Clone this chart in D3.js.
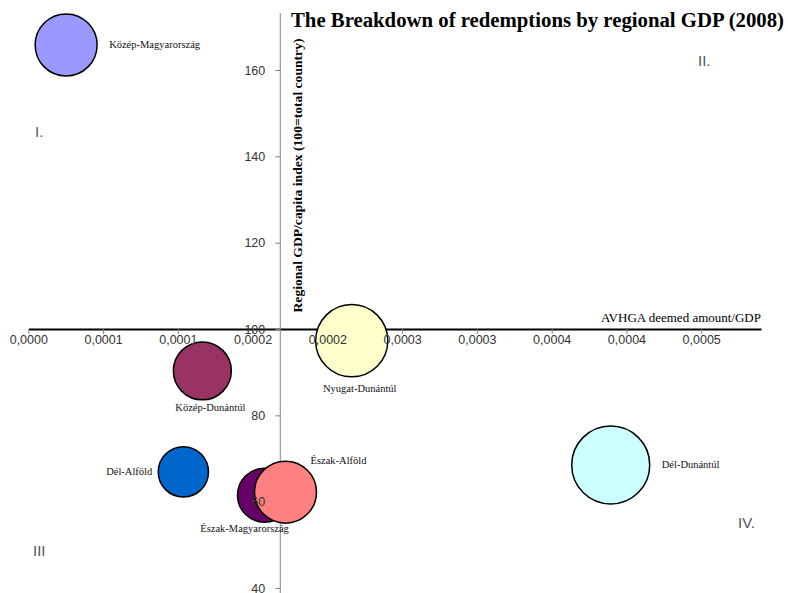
<!DOCTYPE html>
<html>
<head>
<meta charset="utf-8">
<script src="https://cdn.jsdelivr.net/npm/d3@7"></script>
<style>
  html, body { margin: 0; padding: 0; background: #fff; }
  svg { display: block; }
</style>
</head>
<body>
<svg id="chart" width="788" height="593"></svg>
<script>
// ---- data ----
const regions = ["Közép-Magyarország", "Közép-Dunántúl", "Nyugat-Dunántúl", "Dél-Alföld", "Észak-Magyarország", "Észak-Alföld", "Dél-Dunántúl"];
const redemptionRatio = [0.0000253, 0.0001164, 0.0002163, 0.0001037, 0.000158, 0.000172, 0.0003895];
const gdpIndex = [165.8, 90.3, 97.3, 66.9, 61.5, 62.2, 68.5];
const bubbleSize = [9.6, 8.4, 13.0, 6.3, 7.3, 9.6, 15.2];
const colors = ["#9999FF", "#993366", "#FFFFCC", "#0066CC", "#660066", "#FF8080", "#CCFFFF"];
const xTickValues = [0, 0.00005, 0.0001, 0.00015, 0.0002, 0.00025, 0.0003, 0.00035, 0.0004, 0.00045];
const xTickLabels = ["0,0000", "0,0001", "0,0001", "0,0002", "0,0002", "0,0003", "0,0003", "0,0004", "0,0004", "0,0005"];
const yTickValues = [40, 60, 80, 100, 120, 140, 160];
const quadrants = ["I.", "II.", "III", "IV."];
const title = "The Breakdown of redemptions by regional GDP (2008)";
const xTitle = "AVHGA deemed amount/GDP";
const yTitle = "Regional GDP/capita index (100=total country)";
const xCrossValue = 100;        // horizontal axis crosses at GDP index 100
const yCrossValue = 0.0001685;  // vertical axis crosses here

// ---- layout ----
const svg = d3.select("#chart");
const x = d3.scaleLinear().domain([0, 0.00049]).range([28.3, 761]);
const y = d3.scaleLinear().domain([40, 160]).range([588, 70]);
const r = d3.scaleSqrt().domain([0, d3.max(bubbleSize)]).range([0, 39]);
const serif = "'Liberation Serif', 'Times New Roman', serif";
const sans = "'Liberation Sans', Arial, sans-serif";

const xAxisY = y(xCrossValue);
const yAxisX = x(yCrossValue);

// axis lines & ticks (under bubbles)
const xAxisLines = svg.append("g").attr("transform", `translate(0,${xAxisY})`)
  .call(d3.axisBottom(x).tickValues(xTickValues).tickFormat("").tickSizeInner(5).tickSizeOuter(0));
xAxisLines.select(".domain").attr("stroke", "#000").attr("stroke-width", 2.2);
xAxisLines.selectAll(".tick line").attr("stroke", "#808080");

const yAxisLines = svg.append("g").attr("transform", `translate(${yAxisX},0)`)
  .call(d3.axisLeft(y).tickValues(yTickValues).tickFormat("").tickSizeInner(5).tickSizeOuter(0));
yAxisLines.select(".domain").remove();
yAxisLines.selectAll(".tick line").attr("stroke", "#808080");
svg.append("line")
  .attr("x1", yAxisX).attr("x2", yAxisX)
  .attr("y1", y(y.invert(13))).attr("y2", y(y.invert(593)))
  .attr("stroke", "#808080").attr("stroke-width", 1);

// bubbles
const data = regions.map((name, i) => ({
  name, xv: redemptionRatio[i], yv: gdpIndex[i], s: bubbleSize[i], color: colors[i]
}));
svg.append("g").selectAll("circle").data(data).join("circle")
  .attr("cx", d => x(d.xv)).attr("cy", d => y(d.yv)).attr("r", d => r(d.s))
  .attr("fill", d => d.color).attr("stroke", "#000").attr("stroke-width", 1.5);

// bubble labels (placement per region)
const placement = {
  "Közép-Magyarország": { side: "right", dx: 12, dy: 3 },
  "Közép-Dunántúl": { side: "below", dx: 8, dy: 11 },
  "Nyugat-Dunántúl": { side: "below", dx: 8, dy: 15 },
  "Dél-Alföld": { side: "left", dx: -6, dy: 3 },
  "Észak-Magyarország": { side: "below", dx: -20, dy: 10 },
  "Észak-Alföld": { side: "aboveRight", dx: 25, dy: -28 },
  "Dél-Dunántúl": { side: "right", dx: 12, dy: 3 }
};
svg.append("g").selectAll("text").data(data).join("text")
  .attr("font-family", serif).attr("font-size", 10.5).attr("fill", "#111")
  .attr("text-anchor", d => {
    const p = placement[d.name].side;
    return p === "right" || p === "aboveRight" ? "start" : p === "left" ? "end" : "middle";
  })
  .attr("x", d => {
    const p = placement[d.name];
    const cx = x(d.xv), rr = r(d.s);
    if (p.side === "right") return cx + rr + p.dx;
    if (p.side === "left") return cx - rr + p.dx;
    return cx + p.dx;
  })
  .attr("y", d => {
    const p = placement[d.name];
    const cy = y(d.yv), rr = r(d.s);
    if (p.side === "below") return cy + rr + p.dy;
    return cy + p.dy;
  })
  .text(d => d.name);

// tick labels (above bubbles)
const xAxisText = svg.append("g").attr("transform", `translate(0,${xAxisY})`)
  .call(d3.axisBottom(x).tickValues(xTickValues).tickFormat((d, i) => xTickLabels[i]).tickSizeInner(5).tickSizeOuter(0).tickPadding(1));
xAxisText.select(".domain").remove();
xAxisText.selectAll(".tick line").remove();
xAxisText.selectAll("text").attr("font-family", sans).attr("font-size", 12.5).attr("fill", "#333");

const yAxisText = svg.append("g").attr("transform", `translate(${yAxisX},0)`)
  .call(d3.axisLeft(y).tickValues(yTickValues).tickSizeInner(5).tickSizeOuter(0).tickPadding(10));
yAxisText.select(".domain").remove();
yAxisText.selectAll(".tick line").remove();
yAxisText.selectAll("text").attr("font-family", sans).attr("font-size", 12.5).attr("fill", "#333");

// titles
svg.append("text").attr("x", 291).attr("y", 27)
  .attr("font-family", serif).attr("font-weight", "bold").attr("font-size", 20.5).attr("fill", "#000")
  .attr("textLength", 493).attr("lengthAdjust", "spacingAndGlyphs")
  .text(title);
svg.append("text").attr("x", 761).attr("y", 322).attr("text-anchor", "end")
  .attr("font-family", serif).attr("font-size", 13).attr("fill", "#000")
  .text(xTitle);
svg.append("text").attr("transform", "translate(301.5,175.5) rotate(-90)").attr("text-anchor", "middle")
  .attr("font-family", serif).attr("font-weight", "bold").attr("font-size", 13.5).attr("fill", "#000")
  .attr("textLength", 274).attr("lengthAdjust", "spacingAndGlyphs")
  .text(yTitle);

// quadrant labels
const quadPos = [[35, 137], [698, 66], [33, 556], [738, 528]];
svg.append("g").selectAll("text").data(quadrants).join("text")
  .attr("x", (d, i) => quadPos[i][0]).attr("y", (d, i) => quadPos[i][1])
  .attr("font-family", sans).attr("font-size", 15).attr("fill", "#555")
  .text(d => d);
</script>
</body>
</html>
